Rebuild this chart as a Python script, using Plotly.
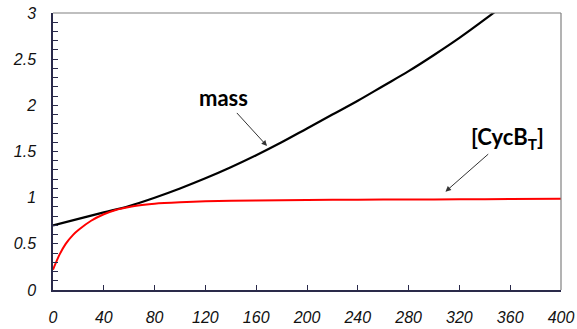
import plotly.graph_objects as go

# Data
mass_x = [0, 20, 40, 60, 80, 100, 120, 140, 160, 180, 200, 220, 240, 260, 280, 300, 320, 340, 360]
mass_y = [0.70, 0.77, 0.84, 0.91, 1.00, 1.10, 1.21, 1.33, 1.46, 1.60, 1.75, 1.90, 2.05, 2.21, 2.37, 2.545, 2.73, 2.93, 3.14]

cycb_x = [0, 5, 10, 16, 20, 30, 40, 50, 60, 70, 80, 100, 120, 160, 200, 240, 280, 320, 360, 400]
cycb_y = [0.22, 0.38, 0.50, 0.60, 0.65, 0.75, 0.82, 0.87, 0.90, 0.92, 0.935, 0.95, 0.96, 0.97, 0.975, 0.978, 0.98, 0.982, 0.985, 0.988]

x_ticks = [0, 40, 80, 120, 160, 200, 240, 280, 320, 360, 400]
y_ticks = [0, 0.5, 1, 1.5, 2, 2.5, 3]
y_labels = ["0", "0.5", "1", "1.5", "2", "2.5", "3"]

fig = go.Figure()
fig.add_trace(go.Scatter(x=mass_x, y=mass_y, mode="lines",
                         line=dict(color="black", width=2.2, shape="spline", smoothing=1.0),
                         showlegend=False, hoverinfo="skip"))
fig.add_trace(go.Scatter(x=cycb_x, y=cycb_y, mode="lines",
                         line=dict(color="#ff0000", width=2, shape="spline", smoothing=0.6),
                         showlegend=False, hoverinfo="skip"))

tickfont = dict(family="Liberation Sans, Arial", size=16, color="#111111", style="italic")
axcol = "#2a2a4a"

fig.update_xaxes(range=[0, 400], tickvals=x_ticks, ticktext=[str(v) for v in x_ticks],
                 showgrid=False, zeroline=False, showline=True, linecolor=axcol, linewidth=1.5,
                 ticks="inside", ticklen=5, tickcolor=axcol, tickwidth=1,
                 tickfont=tickfont, ticklabelstandoff=12, automargin=False)
fig.update_yaxes(range=[0, 3], tickvals=y_ticks, ticktext=y_labels,
                 showgrid=False, zeroline=False, showline=True, linecolor=axcol, linewidth=1.5,
                 ticks="inside", ticklen=5, tickcolor=axcol, tickwidth=1,
                 minor=dict(dtick=0.1, ticks="inside", ticklen=5, tickcolor=axcol, tickwidth=1),
                 tickfont=tickfont, ticklabelstandoff=12, automargin=False)

# top and right gray borders
fig.add_shape(type="line", xref="paper", yref="paper", x0=0, x1=1, y0=1, y1=1,
              line=dict(color="#808080", width=1.2))
fig.add_shape(type="line", xref="paper", yref="paper", x0=1, x1=1, y0=0, y1=1,
              line=dict(color="#808080", width=1.2))

annfont = dict(family="Lato, Open Sans", size=22, color="black")
fig.add_annotation(x=168.5, y=1.56, ax=134, ay=2.08, axref="x", ayref="y",
                   xref="x", yref="y", text="<b>mass</b>", showarrow=True,
                   arrowhead=2, arrowsize=1.1, arrowwidth=1, arrowcolor="#333333",
                   font=annfont, standoff=0, startstandoff=0)
fig.add_annotation(x=309, y=1.065, ax=357.5, ay=1.65, axref="x", ayref="y",
                   xref="x", yref="y", text="<b>[CycB<sub>T</sub>]</b>", showarrow=True,
                   arrowhead=2, arrowsize=1.1, arrowwidth=1, arrowcolor="#333333",
                   font=annfont, standoff=0, startstandoff=0)

fig.update_layout(width=577, height=329, margin=dict(l=53, r=16, t=13, b=39, autoexpand=False),
                  plot_bgcolor="white", paper_bgcolor="white")

fig.write_html("out.html", config={"displayModeBar": False},
               post_script="document.body.style.margin='0';document.body.style.padding='0';document.body.style.overflow='hidden';")
